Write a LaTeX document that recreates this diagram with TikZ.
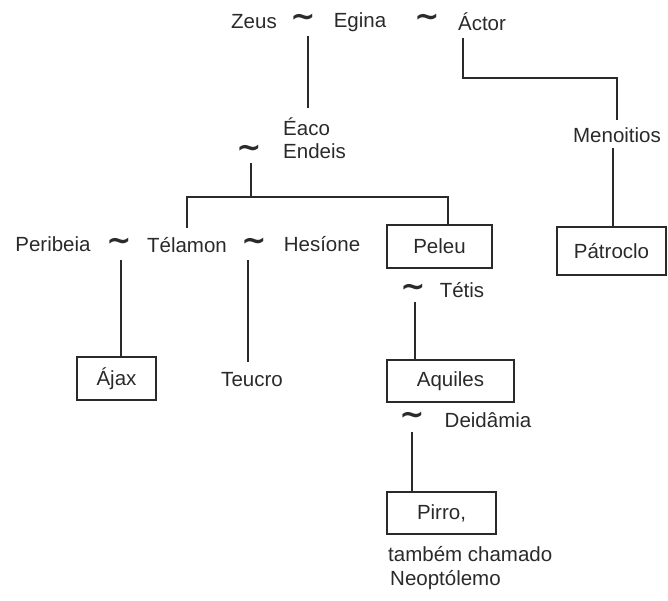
\documentclass[tikz,border=0pt]{standalone}
\usepackage{fontspec}
\setmainfont{Liberation Sans}
\newfontfamily\symfont{DejaVu Sans}
\definecolor{ink}{HTML}{2A2A2A}
\tikzset{
  txt/.style={inner sep=0pt, text=ink, font=\fontsize{20.5}{24}\selectfont},
  tl/.style={inner sep=0pt, text=ink, font=\symfont\bfseries\fontsize{30}{30}\selectfont},
  box/.style={draw=ink, line width=2pt, text=ink, inner sep=0pt, font=\fontsize{20.5}{24}\selectfont},
  ln/.style={draw=ink, line width=2pt}
}
\begin{document}
\begin{tikzpicture}[x=1pt,y=-1pt]
\useasboundingbox (0,0) rectangle (668,601);
% top row
\node[txt] (zeus) at (254,22) {Zeus};
\node[tl] (t1) at (303,20) {∼};
\node[txt] (egina) at (360,22) {Egina};
\node[tl] (t2) at (427,20) {∼};
\node[txt] (actor) at (482,22) {Áctor};
% Eaco / Endeis
\node[txt, anchor=west] (eaco) at (283,127) {Éaco};
\node[txt, anchor=west] (endeis) at (283,151) {Endeis};
\node[tl] (t3) at (249,151) {∼};
% Menoitios
\node[txt] (men) at (617,135) {Menoitios};
\node[box, minimum width=109pt, minimum height=48pt] (pat) at (611.5,251) {Pátroclo};
% third row
\node[txt] (peri) at (53,244) {Peribeia};
\node[tl] (t4) at (119,244) {∼};
\node[txt] (tela) at (187,245) {Télamon};
\node[tl] (t5) at (254,244) {∼};
\node[txt] (hes) at (322,244) {Hesíone};
\node[box, minimum width=105pt, minimum height=43pt] (peleu) at (439.5,246.5) {Peleu};
% Tetis
\node[tl] (t6) at (413,290) {∼};
\node[txt] (tetis) at (462,290) {Tétis};
% children
\node[box, minimum width=79pt, minimum height=43pt] (ajax) at (116.5,378.5) {Ájax};
\node[txt] (teucro) at (252,380) {Teucro};
\node[box, minimum width=127pt, minimum height=42pt] (aquiles) at (450.5,381) {Aquiles};
\node[tl] (t7) at (412,418) {∼};
\node[txt] (deid) at (488,420) {Deidâmia};
\node[box, minimum width=109pt, minimum height=42pt] (pirro) at (441.5,513) {Pirro,};
\node[txt, anchor=north west, align=left, font=\fontsize{20.5}{24}\selectfont] (neo) at (388,546) {também chamado\\\hspace*{2pt}Neoptólemo};
% connector coordinates
\coordinate (a1) at (308,36);
\coordinate (a2) at (308,108);
\coordinate (b1) at (463,38);
\coordinate (b3) at (617,78);
\coordinate (b2) at (617,120);
\coordinate (c1) at (613,148);
\coordinate (d1) at (251,163);
\coordinate (d2) at (251,197);
\coordinate (e1) at (187,228);
\coordinate (f1) at (448,197);
\coordinate (g1) at (121,260);
\coordinate (h1) at (248,260);
\coordinate (h2) at (248,362);
\coordinate (k1) at (415,302);
\coordinate (m1) at (412,432);
% connectors
\draw[ln] (a1) -- (a2);
\draw[ln] (b1) |- (b3) -- (b2);
\draw[ln] (c1) -- (c1 |- pat.north);
\draw[ln] (d1) -- (d2);
\draw[ln] (e1) |- (f1) -- (f1 |- peleu.north);
\draw[ln] (g1) -- (g1 |- ajax.north);
\draw[ln] (h1) -- (h2);
\draw[ln] (k1) -- (k1 |- aquiles.north);
\draw[ln] (m1) -- (m1 |- pirro.north);
\end{tikzpicture}
\end{document}
